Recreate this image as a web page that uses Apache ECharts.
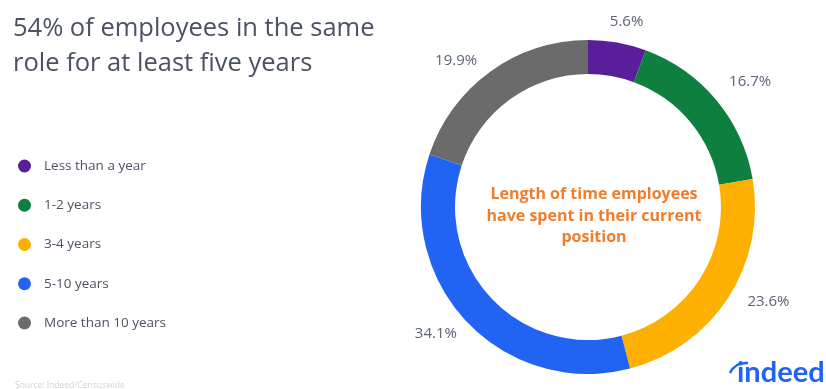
<!DOCTYPE html>
<html><head><meta charset="utf-8">
<script src="https://cdn.jsdelivr.net/npm/echarts@6/dist/echarts.min.js"></script>
<style>html,body{margin:0;padding:0;background:#fff}#c{width:826px;height:389px}</style>
</head><body><div id="c"></div>
<script>
var categories = ['Less than a year', '1-2 years', '3-4 years', '5-10 years', 'More than 10 years'];
var values = [5.6, 16.7, 23.6, 34.1, 19.9];
var colors = ['#5a1e9a', '#0e7f3e', '#fdb000', '#2164f3', '#6b6b6b'];
var labelOffsets = [[3, 15], [6, 4], [10, -15], [-4, -12], [-13, 18]];
var titleText = '54% of employees in the same\nrole for at least five years';
var centerText = 'Length of time employees\nhave spent in their current\nposition';
var sourceText = 'Source: Indeed/Censuswide';

var chart = echarts.init(document.getElementById('c'), null, {renderer: 'canvas'});
var data = categories.map(function (c, i) { return {name: c, value: values[i], itemStyle: {color: colors[i]}}; });
var font = '"Open Sans", Lato, sans-serif';
chart.setOption({
  backgroundColor: '#fff',
  animation: false,
  title: [
    {text: titleText, left: 8, top: 6, textStyle: {fontFamily: font, fontWeight: 'normal', fontSize: 25.5, lineHeight: 35, color: '#4b5263'}},
    {text: centerText, left: 589, top: 179, textAlign: 'center', textStyle: {fontFamily: font, fontWeight: 'bold', fontSize: 16, lineHeight: 21.5, color: '#f07d2c', align: 'center'}},
    {text: sourceText, left: 10, top: 376, textStyle: {fontFamily: font, fontWeight: 'normal', fontSize: 8.5, color: '#d4d4d4'}},
    {text: 'indeed', left: 732, top: 353, textStyle: {fontFamily: 'Lato, sans-serif', fontWeight: 'bold', fontSize: 29, color: '#2164f3'}}
  ],
  graphic: [
    {type: 'bezierCurve', shape: {x1: 730, y1: 373, x2: 748, y2: 363, cpx1: 735, cpy1: 362}, style: {stroke: '#2164f3', lineWidth: 2.5, fill: null}}
  ],
  legend: {
    orient: 'vertical', left: 13, top: 154, icon: 'circle', itemWidth: 13, itemHeight: 13, itemGap: 25.25,
    data: categories,
    textStyle: {fontFamily: font, fontSize: 13.5, color: '#4b5263', padding: [0, 0, 0, 8]}
  },
  series: [
    {
      type: 'pie', center: [588, 207], radius: [133, 167], startAngle: 90, clockwise: true,
      data: data, label: {show: false}, labelLine: {show: false}, silent: true
    },
    {
      type: 'pie', center: [588, 207], radius: [198, 202], startAngle: 90, clockwise: true,
      data: categories.map(function (c, i) { return {name: c + ' ', value: values[i], label: {offset: labelOffsets[i]}}; }),
      itemStyle: {color: 'rgba(0,0,0,0)'}, silent: true, legendHoverLink: false,
      label: {show: true, position: 'inside', formatter: function (p) { return values[p.dataIndex].toFixed(1) + '%'; },
        fontFamily: font, fontSize: 15, color: '#5a6378'},
      labelLine: {show: false}
    }
  ]
});
</script></body></html>
